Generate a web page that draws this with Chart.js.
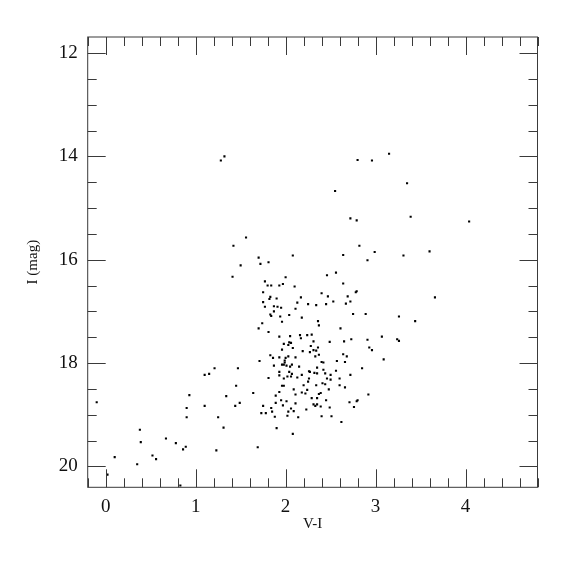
<!DOCTYPE html>
<html>
<head>
<meta charset="utf-8">
<script src="https://cdn.jsdelivr.net/npm/chart.js@4/dist/chart.umd.min.js"></script>
<style>
html,body{margin:0;padding:0;background:#fff;}
#wrap{width:575px;height:575px;}
</style>
</head>
<body>
<div id="wrap"><canvas id="c" width="575" height="575"></canvas></div>
<script>
// V-I colour and I magnitude for each star
const colorVI = [
1.32,1.28,1.56,1.42,1.70,1.72,1.81,1.50,1.41,2.00,1.77,1.80,1.84,1.93,1.97,1.75,1.83,1.82,1.90,
2.80,2.96,2.55,2.72,2.79,2.82,2.99,2.08,2.64,2.91,2.46,2.56,2.10,2.64,2.17,2.40,2.47,2.69,2.78,2.79,
3.15,3.35,3.39,4.04,3.60,3.31,3.66,
1.10,0.93,-0.10,0.90,1.10,0.90,0.38,0.67,0.39,0.78,0.89,0.86,0.10,0.52,0.56,0.35,0.02,0.83,
1.75,1.77,1.87,1.91,1.95,1.87,1.83,1.84,1.94,2.04,1.96,1.74,1.70,1.81,1.93,2.05,1.98,2.04,2.03,1.96,
1.83,1.86,1.93,2.03,2.00,1.71,1.99,1.99,1.98,1.96,1.87,2.01,2.05,1.21,1.47,1.15,1.93,1.93,2.04,2.02,
1.98,1.81,1.96,1.98,1.45,1.64,1.93,1.34,1.89,1.49,1.44,1.95,2.01,1.89,1.97,1.75,1.84,1.73,1.78,1.85,
2.03,1.88,2.02,1.25,1.31,1.90,1.23,1.69,
2.13,2.53,2.72,2.67,2.25,2.34,2.45,2.11,2.18,2.75,2.89,2.36,2.37,2.61,2.16,2.24,2.29,2.17,2.31,2.49,
2.65,2.73,2.91,2.06,2.28,2.08,2.36,2.93,2.96,2.31,2.34,2.19,2.27,2.37,2.64,2.68,2.33,2.11,2.57,2.66,
2.40,2.42,2.07,2.15,2.35,2.85,2.26,2.42,2.56,2.27,2.32,2.35,2.44,2.07,2.50,2.18,2.06,2.13,2.72,2.26,
2.46,2.50,2.60,2.25,2.41,2.44,2.34,2.60,2.20,2.24,2.09,2.66,2.48,2.11,2.18,2.22,2.37,2.39,2.29,2.35,
2.92,2.45,2.79,2.80,2.71,2.11,2.31,2.35,2.33,2.39,2.49,2.76,2.06,2.23,2.09,2.14,2.40,2.51,2.62,2.08,
3.26,3.44,3.07,3.24,3.26,3.09
];
const magI = [
14.00,14.08,15.57,15.73,15.96,16.08,16.05,16.11,16.33,16.34,16.42,16.50,16.50,16.50,16.47,16.63,16.72,16.76,16.75,
14.07,14.08,14.67,15.20,15.24,15.73,15.85,15.92,15.91,16.01,16.30,16.25,16.52,16.46,16.73,16.65,16.71,16.71,16.63,16.61,
13.95,14.52,15.17,15.26,15.84,15.92,16.73,
18.23,18.62,18.76,18.87,18.83,19.05,19.29,19.46,19.53,19.55,19.62,19.67,19.82,19.79,19.86,19.96,20.16,20.37,
16.82,16.91,16.90,16.91,16.93,17.00,17.06,17.09,17.10,17.07,17.20,17.23,17.33,17.40,17.49,17.48,17.63,17.60,17.65,17.74,
17.85,17.90,17.89,17.87,17.90,17.96,17.95,17.99,18.03,18.03,18.05,18.05,18.07,18.10,18.10,18.21,18.17,18.24,18.17,18.26,
18.30,18.29,18.44,18.44,18.44,18.58,18.56,18.64,18.63,18.77,18.83,18.72,18.74,18.77,18.82,18.83,18.87,18.97,18.97,18.94,
18.94,19.04,19.02,19.05,19.25,19.26,19.69,19.63,
16.83,16.81,16.81,16.85,16.86,16.88,16.86,16.95,17.12,17.05,17.05,17.19,17.27,17.33,17.46,17.46,17.45,17.52,17.58,17.59,
17.58,17.54,17.55,17.61,17.67,17.71,17.70,17.70,17.75,17.75,17.76,17.77,17.79,17.84,17.83,17.87,17.87,17.89,17.96,17.98,
17.98,17.99,18.03,18.07,18.09,18.10,18.16,18.13,18.15,18.17,18.19,18.20,18.20,18.21,18.23,18.23,18.26,18.28,18.23,18.30,
18.30,18.32,18.30,18.36,18.39,18.41,18.43,18.43,18.43,18.52,18.51,18.47,18.51,18.61,18.57,18.59,18.60,18.58,18.68,18.68,
18.61,18.72,18.74,18.72,18.76,18.78,18.80,18.80,18.83,18.84,18.86,18.85,18.88,18.90,18.93,19.05,19.03,19.03,19.14,19.37,
17.10,17.19,17.49,17.54,17.57,17.93
];
const xTickLabels = [0, 1, 2, 3, 4];
const yTickLabels = [12, 14, 16, 18, 20];
const xLabel = 'V-I';
const yLabel = 'I (mag)';

const points = colorVI.map((v, i) => ({x: v, y: magI[i]}));

const FONT = "'Liberation Serif', 'Times New Roman', serif";

const frameTicks = {
  id: 'frameTicks',
  afterDraw(chart) {
    const ctx = chart.ctx;
    const xs = chart.scales.x, ys = chart.scales.y;
    const L = xs.left, R = xs.right, T = ys.top, B = ys.bottom;
    ctx.save();
    ctx.strokeStyle = '#3a3a3a';
    ctx.lineWidth = 1;
    ctx.strokeRect(L, T, R - L, B - T);
    const major = 18, minor = 9;
    // x ticks every 0.2, major at integers
    for (let k = -1; k <= 24; k++) {
      const v = k / 5;
      if (v < xs.min - 1e-9 || v > xs.max + 1e-9) continue;
      const px = Math.round(xs.getPixelForValue(v)) + 0.5;
      const len = (k % 5 === 0) ? major : minor;
      ctx.beginPath();
      ctx.moveTo(px, B); ctx.lineTo(px, B - len);
      ctx.moveTo(px, T); ctx.lineTo(px, T + len);
      ctx.stroke();
    }
    // y ticks every 0.5, major at even magnitudes
    for (let k = 22; k <= 42; k++) {
      const v = k / 2;
      if (v < ys.min - 1e-9 || v > ys.max + 1e-9) continue;
      const py = Math.round(ys.getPixelForValue(v)) + 0.5;
      const len = (k % 4 === 0) ? major : minor;
      ctx.beginPath();
      ctx.moveTo(L, py); ctx.lineTo(L + len, py);
      ctx.moveTo(R, py); ctx.lineTo(R - len, py);
      ctx.stroke();
    }
    ctx.restore();
  }
};

new Chart(document.getElementById('c'), {
  type: 'scatter',
  data: {
    datasets: [{
      data: points,
      pointStyle: 'rect',
      pointRadius: 1.5,
      pointBorderWidth: 0,
      backgroundColor: '#000',
      borderColor: '#000'
    }]
  },
  options: {
    responsive: false,
    animation: false,
    devicePixelRatio: 1,
    layout: {padding: {left: 0, top: 37, right: 37.5, bottom: 0}},
    plugins: {legend: {display: false}, tooltip: {enabled: false}},
    scales: {
      x: {
        type: 'linear',
        min: -0.2, max: 4.8,
        afterFit(s) { s.height = 575 - 487.3 - 0; },
        afterBuildTicks(s) { s.ticks = xTickLabels.map(v => ({value: v})); },
        grid: {display: false, drawTicks: false},
        border: {display: false},
        ticks: {
          color: '#111', padding: 8,
          font: {family: FONT, size: 19},
          callback: v => String(v)
        },
        title: {
          display: true, text: xLabel, color: '#111',
          font: {family: FONT, size: 15},
          padding: {top: 0, bottom: 41.5}
        }
      },
      y: {
        type: 'linear',
        reverse: true,
        min: 11.69, max: 20.405,
        afterFit(s) { s.width = 87.7; },
        afterBuildTicks(s) { s.ticks = yTickLabels.map(v => ({value: v})); },
        grid: {display: false, drawTicks: false},
        border: {display: false},
        ticks: {
          color: '#111', padding: 10,
          font: {family: FONT, size: 19},
          callback: v => String(v)
        },
        title: {
          display: true, text: yLabel, color: '#111',
          font: {family: FONT, size: 15},
          padding: {top: 24, bottom: 0}
        }
      }
    }
  },
  plugins: [frameTicks]
});
</script>
</body>
</html>
